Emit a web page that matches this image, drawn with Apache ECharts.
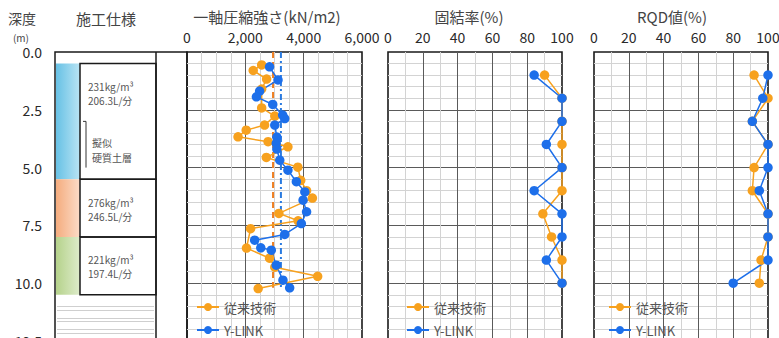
<!DOCTYPE html>
<html><head><meta charset="utf-8">
<script src="https://cdn.jsdelivr.net/npm/echarts/dist/echarts.min.js"></script>
<style>html,body{margin:0;padding:0;background:#fff}#c{width:779px;height:338px}</style>
</head><body><div id="c"></div>
<script>
// ---------- data ----------
const seriesNames = ['従来技術', 'Y-LINK'];
// 一軸圧縮強さ (kN/m2) vs depth (m)
const ucsOldDepth = [0.56, 0.80, 1.17, 1.60, 2.42, 2.77, 3.16, 3.38, 3.67, 3.88, 4.10, 4.56, 4.98, 5.55, 6.00, 6.32, 6.98, 7.30, 7.64, 8.48, 8.92, 9.31, 9.70, 10.23];
const ucsOldKN    = [2560, 2270, 2730, 2560, 2560, 3010, 2660, 2030, 1750, 2780, 3460, 2720, 3800, 3900, 4100, 4300, 3150, 3810, 2180, 2040, 2830, 3010, 4480, 2440];
const ucsNewDepth = [0.64, 1.21, 1.69, 1.94, 2.27, 2.73, 2.88, 3.16, 3.68, 3.95, 4.20, 4.68, 5.11, 5.61, 6.05, 6.41, 6.91, 7.42, 7.89, 8.14, 8.47, 8.57, 9.22, 9.87, 10.20];
const ucsNewKN    = [2830, 3120, 2490, 2380, 2940, 3280, 3350, 3010, 3080, 3060, 3080, 3180, 3460, 3750, 4040, 3980, 4100, 3920, 3350, 2320, 2530, 2890, 3060, 3290, 3520];
const ucsMeanOld = 2950;
const ucsMeanNew = 3220;
const meanLineDepths = [0, 10.2];
// 固結率 / RQD (%) at 1 m steps
const sampleDepths = [1, 2, 3, 4, 5, 6, 7, 8, 9, 10];
const solidOld = [90, 100, 100, 100, 100, 100, 89, 94, 100, 100];
const solidNew = [84, 100, 100, 91, 100, 84, 100, 100, 91, 100];
const rqdOld   = [92, 100, 91, 100, 92, 91, 100, 100, 96, 95];
const rqdNew   = [100, 97, 91, 100, 100, 95, 100, 100, 100, 80];
// 施工仕様
const specRanges = [[0.5, 5.5], [5.5, 8.0], [8.0, 10.5]];
const specLine1 = ['231kg/m³', '276kg/m³', '221kg/m³'];
const specLine2 = ['206.3L/分', '246.5L/分', '197.4L/分'];
const hardLayer = [3.0, 5.0];
const hardLayerLabel = ['擬似', '硬質土層'];
const lowerRuleDepths = [11.0, 11.15, 11.5, 11.65, 12.0, 12.15];
// axes
const depthMin = 0, depthMax = 12.5, depthStep = 2.5;
const ucsMin = 0, ucsMax = 6000, ucsStep = 2000;
const pctMin = 0, pctMax = 100, pctStep = 20;
const titles = ['深度', '(m)', '施工仕様', '一軸圧縮強さ(kN/m2)', '固結率(%)', 'RQD値(%)'];

// ---------- style ----------
const ORANGE = '#F7A11E', BLUE = '#1D6FEA';
const FONT = '"Noto Sans CJK JP","Noto Sans",sans-serif';
const specGrad = [['#67C1E5', '#B9E4F4'], ['#F4AC7E', '#FCDCC8'], ['#B5D28B', '#DEECCB']];
const gridTop = 52, gridH = 289;
const panels = [{left: 187, width: 175}, {left: 388, width: 174}, {left: 594, width: 174}];

const chart = echarts.init(document.getElementById('c'), null, {renderer: 'svg'});

function depthAxis(gi) {
  return {
    type: 'value', gridIndex: gi, inverse: true, min: depthMin, max: depthMax, interval: depthStep,
    axisLine: {show: false}, axisTick: {show: false},
    axisLabel: gi === 0 ? {show: true, margin: 13, fontSize: 14, color: '#2a2a2a', fontFamily: FONT,
      formatter: v => v.toFixed(1)} : {show: false},
    splitLine: gi === 0 ? {show: false} : {show: true, showMinLine: false, showMaxLine: false,
      lineStyle: {color: '#5a5a5a', width: 1}},
    minorTick: {show: false, splitNumber: 5},
    minorSplitLine: {show: gi !== 0, lineStyle: {color: '#d3d3d3', width: 1}}
  };
}
function topAxis(gi, min, max, step, minorN, fmt) {
  return {
    type: 'value', gridIndex: gi, position: 'top', min: min, max: max, interval: step,
    axisLine: {show: false}, axisTick: {show: false},
    axisLabel: {show: true, margin: 8, fontSize: 14, color: '#2a2a2a', fontFamily: FONT, formatter: fmt},
    splitLine: {show: true, showMinLine: false, showMaxLine: false, lineStyle: {color: '#5a5a5a', width: 1}},
    minorTick: {show: false, splitNumber: minorN},
    minorSplitLine: {show: true, lineStyle: {color: '#d3d3d3', width: 1}}
  };
}
function gridOf(left, width) {
  return {left: left, top: gridTop, width: width, height: gridH, containLabel: false, outerBoundsMode: 'none',
    show: true, borderColor: '#1a1a1a', borderWidth: 1.6, backgroundColor: 'transparent'};
}
function pointSeries(name, xi, xs, ys, color) {
  return {
    name: name, type: 'line', xAxisIndex: xi, yAxisIndex: xi,
    data: ys.map((d, i) => [xs[i], d]),
    symbol: 'circle', symbolSize: 9.5, color: color,
    itemStyle: {color: color}, lineStyle: {color: color, width: 1.5},
    emphasis: {disabled: true}, animation: false, z: 5
  };
}
function meanSeries(name, val, color, dash) {
  return {
    name: name, type: 'line', xAxisIndex: 1, yAxisIndex: 1,
    data: meanLineDepths.map(d => [val, d]), symbol: 'none',
    lineStyle: {color: color, width: 2, type: dash}, animation: false, z: 3, silent: true
  };
}
function legendAt(left) {
  return {
    left: left, top: 300, orient: 'vertical', padding: 0, itemWidth: 22, itemHeight: 10, itemGap: 9,
    data: seriesNames, selectedMode: false,
    textStyle: {fontSize: 13, color: '#555', fontFamily: FONT, lineHeight: 14}
  };
}
function txt(x, y, s, size, align) {
  return {type: 'text', x: x, y: y, style: {text: s, fontSize: size, fill: '#444', fontFamily: FONT,
    align: align || 'center', verticalAlign: 'middle'}};
}

const fmtComma = v => v.toLocaleString('en-US');

const option = {
  animation: false,
  backgroundColor: '#fff',
  textStyle: {fontFamily: FONT},
  grid: [
    {left: 55, top: gridTop, width: 132, height: gridH, containLabel: false, outerBoundsMode: 'none',
      show: true, borderColor: '#1a1a1a', borderWidth: 1.5, backgroundColor: 'transparent'},
    gridOf(panels[0].left, panels[0].width),
    gridOf(panels[1].left, panels[1].width),
    gridOf(panels[2].left, panels[2].width)
  ],
  xAxis: [
    {type: 'value', gridIndex: 0, min: 0, max: 1, show: false},
    topAxis(1, ucsMin, ucsMax, ucsStep, 4, fmtComma),
    topAxis(2, pctMin, pctMax, pctStep, 2, v => String(v)),
    topAxis(3, pctMin, pctMax, pctStep, 2, v => String(v))
  ],
  yAxis: [depthAxis(0), depthAxis(1), depthAxis(2), depthAxis(3)],
  legend: [legendAt(196), legendAt(406), legendAt(608)],
  graphic: [
    txt(22, 18, titles[0], 14),
    txt(21, 37, titles[1], 10),
    txt(106, 18, titles[2], 15),
    txt(267, 16, titles[3], 15),
    txt(469, 16, titles[4], 15),
    txt(672, 16, titles[5], 15),
    {type: 'line', shape: {x1: 156, y1: gridTop, x2: 156, y2: 338}, style: {stroke: '#1a1a1a', lineWidth: 1.5}}
  ],
  series: [
    {
      name: 'spec', type: 'custom', xAxisIndex: 0, yAxisIndex: 0, silent: true, animation: false,
      data: specRanges.map((r, i) => [r[0], r[1], i]),
      renderItem: function (params, api) {
        const cs = params.coordSys;
        const y0 = api.coord([0, api.value(0)])[1];
        const y1 = api.coord([0, api.value(1)])[1];
        const i = api.value(2);
        const x = cs.x;
        return {type: 'group', children: [
          {type: 'rect', shape: {x: x + 1, y: y0, width: 24, height: y1 - y0},
            style: {fill: new echarts.graphic.LinearGradient(0, 0, 1, 0, [
              {offset: 0, color: specGrad[i][0]}, {offset: 1, color: specGrad[i][1]}])}},
          {type: 'rect', shape: {x: x + 25, y: y0, width: 76, height: y1 - y0},
            style: {fill: 'none', stroke: '#1a1a1a', lineWidth: 1.5}},
          {type: 'text', x: x + 33, y: y0 + 23,
            style: {text: specLine1[i], fill: '#555', fontSize: 10, fontFamily: FONT, verticalAlign: 'middle'}},
          {type: 'text', x: x + 33, y: y0 + 37,
            style: {text: specLine2[i], fill: '#555', fontSize: 10, fontFamily: FONT, verticalAlign: 'middle'}}
        ]};
      }
    },
    {
      name: 'hard', type: 'custom', xAxisIndex: 0, yAxisIndex: 0, silent: true, animation: false,
      data: [hardLayer],
      renderItem: function (params, api) {
        const x = params.coordSys.x;
        const y0 = api.coord([0, api.value(0)])[1];
        const y1 = api.coord([0, api.value(1)])[1];
        return {type: 'group', children: [
          {type: 'polyline', shape: {points: [[x + 28, y0], [x + 31, y0], [x + 31, y1]]},
            style: {fill: 'none', stroke: '#333', lineWidth: 1}},
          {type: 'text', x: x + 37, y: y0 + 21,
            style: {text: hardLayerLabel[0], fill: '#555', fontSize: 10, fontFamily: FONT, verticalAlign: 'middle'}},
          {type: 'text', x: x + 37, y: y0 + 36,
            style: {text: hardLayerLabel[1], fill: '#555', fontSize: 10, fontFamily: FONT, verticalAlign: 'middle'}}
        ]};
      }
    },
    {
      name: 'rules', type: 'custom', xAxisIndex: 0, yAxisIndex: 0, silent: true, animation: false,
      data: lowerRuleDepths.map(d => [d]),
      renderItem: function (params, api) {
        const x = params.coordSys.x;
        const y = Math.round(api.coord([0, api.value(0)])[1]) + 0.5;
        return {type: 'line', shape: {x1: x + 2, y1: y, x2: x + 99, y2: y},
          style: {stroke: '#cfcfcf', lineWidth: 1}};
      }
    },
    meanSeries('平均(従来技術)', ucsMeanOld, '#EE7F22', [6, 4]),
    meanSeries('平均(Y-LINK)', ucsMeanNew, '#2A7BE0', [6, 3, 2, 3]),
    pointSeries(seriesNames[0], 1, ucsOldKN, ucsOldDepth, ORANGE),
    pointSeries(seriesNames[1], 1, ucsNewKN, ucsNewDepth, BLUE),
    pointSeries(seriesNames[0], 2, solidOld, sampleDepths, ORANGE),
    pointSeries(seriesNames[1], 2, solidNew, sampleDepths, BLUE),
    pointSeries(seriesNames[0], 3, rqdOld, sampleDepths, ORANGE),
    pointSeries(seriesNames[1], 3, rqdNew, sampleDepths, BLUE)
  ]
};
chart.setOption(option);
</script>
</body></html>
